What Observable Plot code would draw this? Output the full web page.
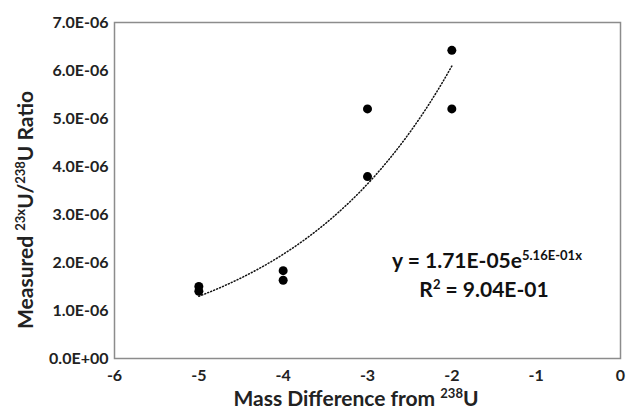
<!DOCTYPE html>
<html><head><meta charset="utf-8">
<script src="https://cdn.jsdelivr.net/npm/d3@7"></script>
<script src="https://cdn.jsdelivr.net/npm/@observablehq/plot@0.6"></script>
<style>body{margin:0;background:#fff}svg{font-family:Lato,"Open Sans",sans-serif}</style>
</head><body><div id="chart"></div>
<script>
const massDiff = [-5, -5, -4, -4, -3, -3, -2, -2];
const ratio = [1.50e-6, 1.40e-6, 1.83e-6, 1.63e-6, 5.20e-6, 3.79e-6, 6.42e-6, 5.20e-6];
const fitA = 1.71e-5, fitB = 0.516;
const fitRange = [-5, -2];
const xTicks = [-6, -5, -4, -3, -2, -1, 0];
const yTicks = [0, 1e-6, 2e-6, 3e-6, 4e-6, 5e-6, 6e-6, 7e-6];

const pts = massDiff.map((x, i) => ({x, y: ratio[i]}));
const fmtE = d => {
  if (d === 0) return "0.0E+00";
  const [m, e] = d.toExponential(1).toUpperCase().split("E");
  const n = +e;
  return m + "E" + (n < 0 ? "-" : "+") + String(Math.abs(n)).padStart(2, "0");
};
const fmtX = d => String(d);
const trend = d3.range(fitRange[0], fitRange[1] + 0.001, 0.05).map(x => ({x, y: fitA * Math.exp(fitB * x)}));

const plot = Plot.plot({
  width: 630, height: 413,
  marginLeft: 114, marginRight: 10, marginTop: 22, marginBottom: 55,
  style: {fontFamily: "Lato, sans-serif", background: "#fff"},
  x: {domain: [-6, 0]},
  y: {domain: [0, 7e-6]},
  marks: [
    Plot.axisX({ticks: xTicks, tickSize: 0, tickPadding: 11, tickFormat: fmtX, label: null,
      fontSize: 16, fontWeight: "bold", fill: "#222"}),
    Plot.axisY({ticks: yTicks, tickSize: 0, tickPadding: 6, tickFormat: fmtE, label: null,
      fontSize: 16, fontWeight: "bold", fill: "#222"}),
    Plot.frame({stroke: "#8c8c8c", strokeWidth: 1.5}),
    Plot.line(trend, {x: "x", y: "y", stroke: "#111", strokeWidth: 1.5, strokeDasharray: "1,2.2"}),
    Plot.dot(pts, {x: "x", y: "y", r: 4.5, fill: "#000", stroke: "none"})
  ]
});
const svg = d3.select(plot);

function sup(t, parts, size) {
  parts.forEach(([s, isSup]) => {
    const ts = t.append("tspan").text(s);
    if (isSup) ts.attr("font-size", size * 0.62).attr("baseline-shift", "super");
  });
}
// x title
const xt = svg.append("text").attr("x", 356).attr("y", 406).attr("text-anchor", "middle")
  .attr("font-size", 21).attr("font-weight", "bold").attr("fill", "#222");
sup(xt, [["Mass Difference from ", false], ["238", true], ["U", false]], 21);
// y title
const yt = svg.append("text").attr("transform", "translate(33,210) rotate(-90)").attr("text-anchor", "middle")
  .attr("font-size", 21).attr("font-weight", "bold").attr("fill", "#222");
sup(yt, [["Measured ", false], ["23x", true], ["U/", false], ["238", true], ["U Ratio", false]], 21);
// equation
const e1 = svg.append("text").attr("x", 487).attr("y", 268).attr("text-anchor", "middle")
  .attr("font-size", 21).attr("font-weight", "bold").attr("fill", "#111");
sup(e1, [["y = 1.71E-05e", false], ["5.16E-01x", true]], 21);
const e2 = svg.append("text").attr("x", 484).attr("y", 297).attr("text-anchor", "middle")
  .attr("font-size", 21).attr("font-weight", "bold").attr("fill", "#111");
sup(e2, [["R", false], ["2", true], [" = 9.04E-01", false]], 21);

document.getElementById("chart").append(plot);
</script></body></html>
